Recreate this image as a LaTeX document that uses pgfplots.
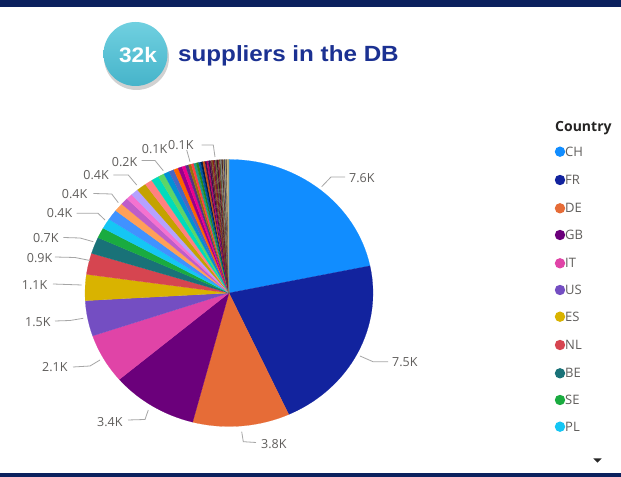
\documentclass[border=0pt]{standalone}
\usepackage{pgfplots}
\pgfplotsset{compat=1.18}
\usepackage{pgfplotstable}
\usepackage{graphicx}
\usepackage{fontspec}
\setmainfont{Open Sans}
\newfontfamily\arialfont{Liberation Sans}

% Power BI palette, one colour per slice
\definecolor{pbi1}{HTML}{118DFF}\definecolor{pbi2}{HTML}{12239E}\definecolor{pbi3}{HTML}{E66C37}
\definecolor{pbi4}{HTML}{6B007B}\definecolor{pbi5}{HTML}{E044A7}\definecolor{pbi6}{HTML}{744EC2}
\definecolor{pbi7}{HTML}{D9B300}\definecolor{pbi8}{HTML}{D64550}\definecolor{pbi9}{HTML}{197278}
\definecolor{pbi10}{HTML}{1AAB40}\definecolor{pbi11}{HTML}{15C6F4}\definecolor{pbi12}{HTML}{4092FF}
\definecolor{pbi13}{HTML}{FFA058}\definecolor{pbi14}{HTML}{BE5DC9}\definecolor{pbi15}{HTML}{F472D0}
\definecolor{pbi16}{HTML}{B5A1FF}\definecolor{pbi17}{HTML}{C4A200}\definecolor{pbi18}{HTML}{FF8080}
\definecolor{pbi19}{HTML}{00DBBC}\definecolor{pbi20}{HTML}{5BD667}\definecolor{pbi21}{HTML}{0091D5}
\definecolor{pbi22}{HTML}{4668C5}\definecolor{pbi23}{HTML}{FF6300}\definecolor{pbi24}{HTML}{99008A}
\definecolor{pbi25}{HTML}{EC008C}\definecolor{pbi26}{HTML}{533285}\definecolor{pbi27}{HTML}{99700A}
\definecolor{pbi28}{HTML}{FF4141}\definecolor{pbi29}{HTML}{1F9A85}\definecolor{pbi30}{HTML}{25891C}
\definecolor{pbi31}{HTML}{0057A2}\definecolor{pbi32}{HTML}{002050}\definecolor{pbi33}{HTML}{C94F0F}
\definecolor{pbi34}{HTML}{450F54}\definecolor{pbi35}{HTML}{B60064}\definecolor{pbi36}{HTML}{34124F}
\definecolor{pbi37}{HTML}{6A1E3A}\definecolor{pbi38}{HTML}{7A5C1E}\definecolor{pbi39}{HTML}{8B1A1A}
\definecolor{pbi40}{HTML}{5C1F4A}\definecolor{pbi41}{HTML}{6B6B2A}\definecolor{pbi42}{HTML}{3A0F2E}
\definecolor{pbi43}{HTML}{8A2B2B}\definecolor{pbi44}{HTML}{565B2F}\definecolor{pbi45}{HTML}{7D7D7D}
\definecolor{pbi46}{HTML}{4A1A1A}\definecolor{pbi47}{HTML}{9E9160}\definecolor{pbi48}{HTML}{2E2E5C}
\definecolor{pbi49}{HTML}{A89F72}\definecolor{pbi50}{HTML}{5E4B3C}\definecolor{pbi51}{HTML}{C9BE8E}
\definecolor{pbi52}{HTML}{B0A97E}
\definecolor{navybar}{HTML}{0B215E}
\definecolor{titleblue}{HTML}{1B3192}
\definecolor{labelgray}{HTML}{605E5C}
\definecolor{leadergray}{HTML}{A6A6A6}

% suppliers per country, thousands (clockwise from 12 o'clock)
\pgfplotstableread{
country value
CH 7.6
FR 7.5
DE 3.8
GB 3.4
IT 2.1
US 1.5
ES 1.1
NL 0.9
BE 0.7
SE 0.44
PL 0.44
c12 0.44
c13 0.36
c14 0.30
c15 0.25
c16 0.30
c17 0.38
c18 0.30
c19 0.30
c20 0.24
c21 0.22
c22 0.20
c23 0.18
c24 0.16
c25 0.14
c26 0.12
c27 0.11
c28 0.10
c29 0.10
c30 0.09
c31 0.09
c32 0.08
c33 0.08
c34 0.07
c35 0.07
c36 0.06
c37 0.06
c38 0.05
c39 0.05
c40 0.05
c41 0.05
c42 0.05
c43 0.05
c44 0.05
c45 0.05
c46 0.04
c47 0.04
c48 0.04
c49 0.04
c50 0.04
c51 0.04
c52 0.04
}\piedata

\begin{document}
\begin{tikzpicture}
\useasboundingbox (0,0) rectangle (621bp,477bp);
\fill[white] (0,0) rectangle (621bp,477bp);

\pgfplotstablegetrowsof{\piedata}
\pgfmathtruncatemacro\nlast{\pgfplotsretval-1}
\def\pietotal{0}
\pgfplotsforeachungrouped \i in {0,...,\nlast}{%
  \pgfplotstablegetelem{\i}{value}\of\piedata
  \pgfmathsetmacro\pietotal{\pietotal+\pgfplotsretval}}

\begin{axis}[
  x=144bp, y=133.5bp,
  xmin=-1.59, xmax=2.72, ymin=-1.38, ymax=2.2,
  anchor=origin, at={(229bp,184bp)},
  hide axis, clip=false]
\def\cum{0}
\pgfplotsforeachungrouped \i in {0,...,\nlast}{%
  \pgfplotstablegetelem{\i}{value}\of\piedata
  \let\v\pgfplotsretval
  \pgfmathsetmacro\a{90-360*\cum/\pietotal}
  \pgfmathsetmacro\cum{\cum+\v}
  \pgfmathsetmacro\b{90-360*\cum/\pietotal}
  \pgfmathsetmacro\ca{cos(\a)}
  \pgfmathsetmacro\sa{sin(\a)}
  \pgfmathtruncatemacro\k{\i+1}
  \edef\temp{\noexpand\fill[pbi\k, draw=pbi\k, line width=0.15bp]
    (axis cs:0,0) -- (axis cs:\ca,\sa)
    arc[start angle=\a, end angle=\b, x radius=144bp, y radius=133.5bp] -- cycle;}
  \temp}
\end{axis}

\begin{scope}[x=1bp, y=-1bp, shift={(0,477bp)}]
  % header band and bottom rule
  \fill[navybar] (0,0) rectangle (621,7);
  \fill[navybar] (0,473) rectangle (621,477);
  % badge and title
  \fill[black, opacity=0.18] (136.5,57.5) circle (32.5);
  \shade[top color={rgb,255:red,112;green,208;blue,224}, bottom color={rgb,255:red,70;green,180;blue,202}]
    (135.5,54) circle (32);
  \node[anchor=center, text=white, inner sep=0pt]
    at (138,55) {\arialfont\bfseries\fontsize{21bp}{24bp}\selectfont\scalebox{1.08}[1]{32k}};
  \node[anchor=base west, text=titleblue, inner sep=0pt]
    at (178,61.7) {\arialfont\bfseries\fontsize{22bp}{26bp}\selectfont\scalebox{1.1}[1]{suppliers in the DB}};

  % data labels with leader lines
  \begin{scope}[leadergray, line width=0.8bp]
    \draw (321.7,186.7) -- (331,177) -- (345,177);
    \draw (360,356) -- (373,361.7) -- (388,361.7);
    \draw (241.7,431.7) -- (243.3,441.7) -- (256,442.5);
    \draw (148.3,410) -- (145,419.5) -- (128,420);
    \draw (100,360) -- (90,366) -- (73,367);
    \draw (83.3,318.3) -- (70,320.5) -- (55,321);
    \draw (81.7,285) -- (53,284);
    \draw (90,260.5) -- (75,257.5) -- (55,257);
    \draw (93.3,241.7) -- (80,238) -- (63.3,237.5);
    \draw (105,220) -- (98,213.3) -- (76.7,213.3);
    \draw (118.3,202.7) -- (111.7,194) -- (93.3,193.5);
    \draw (136.7,185) -- (128.3,175) -- (113.3,175);
    \draw (163.3,170.7) -- (155,160.5) -- (141.7,160.5);
    \draw (190,161.7) -- (186.7,150);
    \draw (215,157) -- (213.3,145) -- (201.7,145);
  \end{scope}
  \begin{scope}[every node/.style={anchor=west, inner sep=0pt, text=labelgray,
      font=\fontsize{12.5bp}{14bp}\selectfont}]
    \node at (349,178) {7.6K};
    \node at (392,362) {7.5K};
    \node at (261,444) {3.8K};
    \node at (97,421.7) {3.4K};
    \node at (42,367) {2.1K};
    \node at (25,322) {1.5K};
    \node at (21.7,285) {1.1K};
    \node at (26.7,258.3) {0.9K};
    \node at (33,238) {0.7K};
    \node at (46.7,213.3) {0.4K};
    \node at (61.7,194) {0.4K};
    \node at (83.3,175) {0.4K};
    \node at (111.7,161.7) {0.2K};
    \node at (141.7,149) {0.1K};
    \node at (168,145) {0.1K};
  \end{scope}

  % legend
  \node[anchor=west, inner sep=0pt, text={rgb,255:red,37;green,36;blue,35}]
    at (555,128.3) {\bfseries\fontsize{14bp}{16bp}\selectfont Country};
  \foreach \name/\col/\yy in {CH/pbi1/151.7, FR/pbi2/180, DE/pbi3/208.3, GB/pbi4/235,
      IT/pbi5/263.3, US/pbi6/290, ES/pbi7/316.7, NL/pbi8/345, BE/pbi9/373.3,
      SE/pbi10/400, PL/pbi11/426.7}{
    \fill[\col] (560,\yy) circle (5.2);
    \node[anchor=west, inner sep=0pt, text=labelgray] at (565,\yy)
      {\fontsize{13bp}{15bp}\selectfont\name};
  }
  \fill[black!85] (593.3,458.3) -- (601.7,458.3) -- (597.5,462.7) -- cycle;
\end{scope}
\end{tikzpicture}
\end{document}
